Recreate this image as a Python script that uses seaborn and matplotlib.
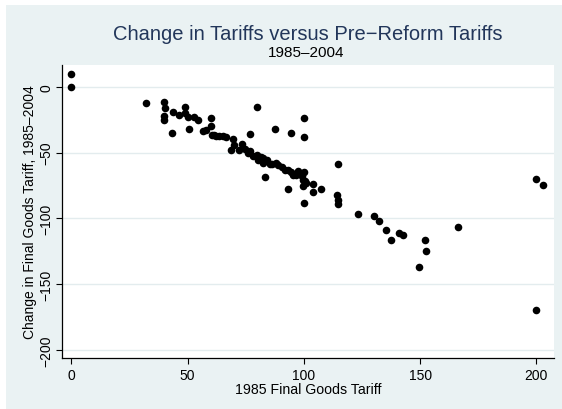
import matplotlib
matplotlib.use("Agg")
import matplotlib.pyplot as plt
import seaborn as sns
import pandas as pd
from matplotlib.patches import Rectangle

tariff_1985 = [
    0, 0, 32, 40, 40.3, 40, 40, 43.2, 43.9, 46.5, 49, 49, 50, 50.5, 52.8, 54.6,
    56.8, 58, 60, 60, 60.4, 61.5, 62.1, 63.5, 65.4, 66.5, 68.6, 69.7, 70.1, 72.3,
    73.3, 74.7, 76.1, 77, 76.9, 78.3, 79.7, 80, 80.4, 81.5, 82.6, 82.6, 83.3, 84,
    85.4, 86.2, 87.5, 88, 89, 90.5, 91.9, 93, 93.3, 94.5, 94.5, 95.5, 96.5, 97.6,
    98.5, 99.1, 99.8, 99.8, 99.9, 99.9, 100.1, 100.5, 100.2, 101, 103.8, 104,
    107.5, 114.8, 114.1, 114.7, 114.7, 123.4, 130, 132.3, 135.4, 137.4, 141.1,
    142.5, 149.7, 152, 152.5, 166.5, 200, 203, 200,
]
change_1985_2004 = [
    10, 0, -12, -11.6, -16, -22, -25.5, -35, -19, -21.7, -15.7, -20, -23, -32,
    -23, -25.5, -34, -33, -24, -30, -36.4, -36.5, -37.6, -37.6, -37.8, -38.5,
    -47.7, -40, -44, -47.7, -43.4, -47.2, -50.2, -48.5, -36, -52.8, -51.5, -15.4,
    -55.3, -53.5, -57.8, -54, -68.7, -56, -59, -59, -31.8, -58, -59.6, -61,
    -62.9, -63, -78, -35, -64.5, -66.7, -67, -64.2, -66, -68, -75.5, -70.5,
    -23.7, -38, -88, -71.7, -65, -73, -73.7, -80, -77.5, -58.6, -82.6, -86.4,
    -89.4, -97, -98, -102, -108.8, -116.7, -111.4, -112.6, -136.9, -116.7,
    -124.8, -106.4, -70, -74.3, -169.5,
]
x_ticks = [0, 50, 100, 150, 200]
y_ticks = [0, -50, -100, -150, -200]

title = "Change in Tariffs versus Pre\u2212Reform Tariffs"
subtitle = "1985\u20132004"
x_label = "1985 Final Goods Tariff"
y_label = "Change in Final Goods Tariff, 1985\u20132004"

df = pd.DataFrame({"x": tariff_1985, "y": change_1985_2004})

sns.set_theme(style="white")
plt.rcParams["font.family"] = ["Liberation Sans", "DejaVu Sans"]

bg = "#EAF2F3"
W, H = 562, 410
fig = plt.figure(figsize=(W / 100, H / 100), dpi=100)
fig.patch.set_facecolor("white")
fig.patches.append(Rectangle((6 / W, 0), 1, (H - 6) / H, transform=fig.transFigure,
                             facecolor=bg, edgecolor="none", zorder=-10))

left, right, top, bottom = 62, 554, 66, 359
ax = fig.add_axes([left / W, 1 - bottom / H, (right - left) / W, (bottom - top) / H])
ax.set_facecolor("white")

sns.scatterplot(data=df, x="x", y="y", ax=ax, color="black", s=30,
                edgecolor="black", linewidth=0, zorder=3)

ax.set_xlim(-4, 207.6)
ax.set_ylim(-206.1, 16.5)
ax.set_xticks(x_ticks)
ax.set_yticks(y_ticks)
ax.set_yticklabels([f"{v}".replace("-", "\u2212") for v in y_ticks],
                   rotation=90, va="center")
ax.grid(False)
for v in y_ticks:
    ax.axhline(v, color="#E3ECEE", lw=1.0, zorder=1)

for s in ["top", "right"]:
    ax.spines[s].set_visible(False)
for s in ["left", "bottom"]:
    ax.spines[s].set_color("black")
    ax.spines[s].set_linewidth(0.9)

ax.tick_params(axis="x", which="major", direction="out", length=4, width=0.8,
               color="black", labelsize=10, labelcolor="black", pad=3, bottom=True)
ax.tick_params(axis="y", which="major", direction="out", length=4.5, width=0.8,
               color="black", labelsize=10, labelcolor="black", pad=1.5, left=True)

ax.set_xlabel(x_label, fontsize=10.2, color="black", labelpad=0)
ax.set_ylabel(y_label, fontsize=10, color="black", labelpad=2)

fig.text(308 / W, 1 - 34 / H, title, ha="center", va="center",
         fontsize=14.5, color="#22365A")
fig.text(306 / W, 1 - 53 / H, subtitle, ha="center", va="center",
         fontsize=11, color="black")

fig.savefig("out.png", dpi=100, facecolor=fig.get_facecolor())
